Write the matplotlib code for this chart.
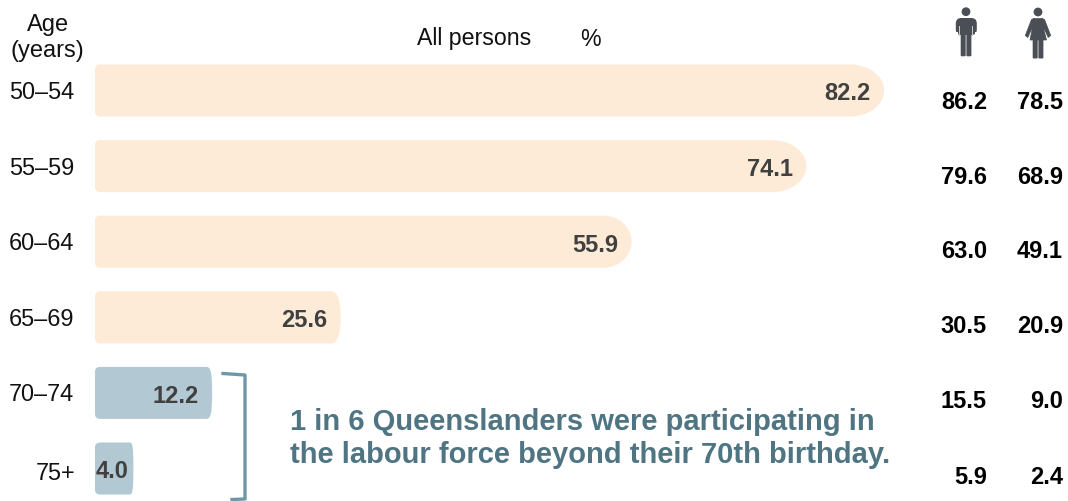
import matplotlib
matplotlib.use("Agg")
import matplotlib.pyplot as plt
from matplotlib.patches import PathPatch, Circle, Polygon, FancyBboxPatch, Rectangle
from matplotlib.path import Path

plt.rcParams['font.family'] = ['Liberation Sans', 'DejaVu Sans']

ages = ["50–54", "55–59", "60–64", "65–69", "70–74", "75+"]
all_persons = [82.2, 74.1, 55.9, 25.6, 12.2, 4.0]
males = [86.2, 79.6, 63.0, 30.5, 15.5, 5.9]
females = [78.5, 68.9, 49.1, 20.9, 9.0, 2.4]

W, H = 1068, 502
PEACH = "#fdebd8"
BLUE = "#b2c9d3"
VAL = "#404040"
TEAL = "#4f7482"
BRK = "#6f97a8"
ICON = "#4a4f55"
end_radius = [34, 34, 28, 9, 6, 3.5]
square = [0.55, 0.55, 0.55, 0.62, 0.8, 0.8]
side_rows = [100, 175, 249, 324, 399, 475]

fig = plt.figure(figsize=(W / 100, H / 100), dpi=100)
ov = fig.add_axes([0, 0, 1, 1])
ov.set_xlim(0, W)
ov.set_ylim(H, 0)
ov.axis("off")

x0, pxu = 95.0, 9.6
y0, step, bh = 91.5, 75.6, 52.0
ax = fig.add_axes([0, 0, 1, 1], facecolor="none")
ax.set_xlim(-x0 / pxu, (W - x0) / pxu)
ax.set_ylim((H - y0) / step, -y0 / step)
ax.axis("off")


def bar_path(v, y, rpx, k, lpx=5):
    h = bh / step / 2
    rx = rpx / pxu
    lx, ly = lpx / pxu, lpx / step
    v_ = [(lx, y - h), (v - rx, y - h),
          (v - rx * (1 - k), y - h), (v, y - h * k), (v, y),
          (v, y + h * k), (v - rx * (1 - k), y + h), (v - rx, y + h),
          (lx, y + h), (0, y + h), (0, y + h - ly),
          (0, y - h + ly), (0, y - h), (lx, y - h), (lx, y - h)]
    c = [Path.MOVETO, Path.LINETO, Path.CURVE4, Path.CURVE4, Path.CURVE4,
         Path.CURVE4, Path.CURVE4, Path.CURVE4, Path.LINETO, Path.CURVE3, Path.CURVE3,
         Path.LINETO, Path.CURVE3, Path.CURVE3, Path.CLOSEPOLY]
    return Path(v_, c)


for i, (a, v, m, f) in enumerate(zip(ages, all_persons, males, females)):
    col = PEACH if i < 4 else BLUE
    ax.add_patch(PathPatch(bar_path(v, i, end_radius[i], square[i]), fc=col, ec="none"))
    ha_x = v - (13.5 if i < 5 else 4.6) / pxu
    ax.text(ha_x, i, f"{v:.1f}", ha="right", va="center_baseline", fontsize=17,
            fontweight="bold", color=VAL)
    ov.text(74.5 if i < 5 else 75.5, 91 + step * i - 1 + (3 if i == 5 else 0), a, ha="right",
            va="center_baseline", fontsize=16.9, color="#111111")
    yy = side_rows[i]
    ov.text(987, yy, f"{m:.1f}", ha="right", va="center_baseline", fontsize=17,
            fontweight="bold", color="black")
    ov.text(1063, yy, f"{f:.1f}", ha="right", va="center_baseline", fontsize=17,
            fontweight="bold", color="black")

# headers
ov.text(48, 23, "Age", ha="center", va="center_baseline", fontsize=17, color="#111111")
ov.text(47.5, 48, "(years)", ha="center", va="center_baseline", fontsize=17, color="#111111")
ov.text(474, 36.5, "All persons", ha="center", va="center_baseline", fontsize=16.7, color="#111111")
ov.text(590, 36.5, "%", ha="center", va="center_baseline", fontsize=16.7, color="#111111")

# bracket
ov.plot([223, 245, 245, 232], [374.5, 376, 500, 500.5], color=BRK, lw=2.4,
        solid_joinstyle="round", clip_on=False)

# annotation
ov.text(290, 419.5, "1 in 6 Queenslanders were participating in", ha="left",
        va="center_baseline", fontsize=20.95, fontweight="bold", color=TEAL)
ov.text(290, 452.5, "the labour force beyond their 70th birthday.", ha="left",
        va="center_baseline", fontsize=20.95, fontweight="bold", color=TEAL)

# man icon
ov.add_patch(Circle((966, 12.7), 4.4, fc=ICON, ec="none"))
ov.add_patch(FancyBboxPatch((955.8, 19), 21, 17, boxstyle="round,pad=0,rounding_size=5.5", fc=ICON, ec="none"))
ov.add_patch(Rectangle((959.3, 27), 0.9, 10, fc="#c8cacc", ec="none"))
ov.add_patch(Rectangle((972.4, 27), 0.9, 10, fc="#c8cacc", ec="none"))
ov.add_patch(Rectangle((955, 33), 3.0, 4, fc="white", ec="none"))
ov.add_patch(Rectangle((974.6, 33), 3.0, 4, fc="white", ec="none"))
ov.add_patch(FancyBboxPatch((960.7, 30), 5.0, 27.3, boxstyle="round,pad=0,rounding_size=1", fc=ICON, ec="none"))
ov.add_patch(FancyBboxPatch((966.4, 30), 5.0, 27.3, boxstyle="round,pad=0,rounding_size=1", fc=ICON, ec="none"))

# woman icon
ov.add_patch(Circle((1038, 13), 4.4, fc=ICON, ec="none"))
ov.add_patch(Polygon([(1033.5, 19.5), (1042.5, 19.5), (1045, 26), (1044, 31), (1046.5, 41),
                      (1030, 41), (1032, 31), (1031, 26)], closed=True, fc=ICON, ec=ICON, lw=0.5))
ov.add_patch(Polygon([(1034, 19.5), (1031.5, 20.5), (1025.3, 36.5), (1027.8, 38.5), (1033, 27)],
                     closed=True, fc=ICON, ec=ICON, lw=0.5))
ov.add_patch(Polygon([(1042, 19.5), (1044.5, 20.5), (1050.7, 36.5), (1048.2, 38.5), (1043, 27)],
                     closed=True, fc=ICON, ec=ICON, lw=0.5))
ov.add_patch(FancyBboxPatch((1032.7, 40), 5.0, 19.5, boxstyle="round,pad=0,rounding_size=1", fc=ICON, ec="none"))
ov.add_patch(FancyBboxPatch((1038.4, 40), 5.0, 19.5, boxstyle="round,pad=0,rounding_size=1", fc=ICON, ec="none"))

fig.savefig("out.png", dpi=100, facecolor="white")
